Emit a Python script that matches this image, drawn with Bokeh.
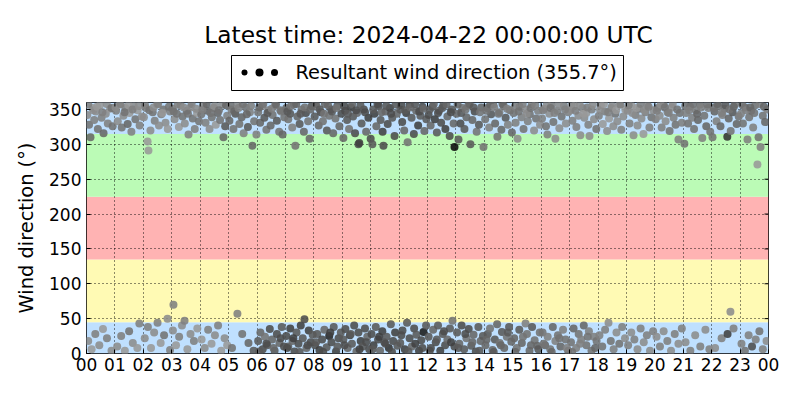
from bokeh.plotting import figure
from bokeh.layouts import column
from bokeh.models import Range1d, FixedTicker, ColumnDataSource
from bokeh.core.properties import value
from bokeh.embed import file_html
from bokeh.resources import INLINE

TITLE = "Latest time: 2024-04-22 00:00:00 UTC"
LEGEND_LABEL = "Resultant wind direction (355.7°)"
Y_LABEL = "Wind direction (°)"
X_TICKS = list(range(0, 25))
X_TICK_LABELS = ["00", "01", "02", "03", "04", "05", "06", "07", "08", "09", "10", "11",
                 "12", "13", "14", "15", "16", "17", "18", "19", "20", "21", "22", "23", "00"]
Y_TICKS = [0, 50, 100, 150, 200, 250, 300, 350]

BAND_BOTTOM = [0, 45, 135, 225, 315]
BAND_TOP = [45, 135, 225, 315, 360]
BAND_COLORS = ["#bfe0ff", "#fffab4", "#ffb3b3", "#bbfbb6", "#bfe0ff"]

# northerly cluster (around 315-360 deg): hour of day, direction, grey level
top_hours = [
    0.03, 0.09, 0.14, 0.21, 0.27, 0.33, 0.40, 0.47, 0.53, 0.60, 0.68, 0.75, 0.83, 0.92,
    1.04, 1.10, 1.17, 1.24, 1.30, 1.37, 1.45, 1.51, 1.58, 1.66, 1.72, 1.80, 1.87, 1.95,
    2.02, 2.09, 2.15, 2.18, 2.25, 2.33, 2.40, 2.48, 2.55, 2.63, 2.70, 2.78, 2.86, 2.94,
    3.03, 3.10, 3.18, 3.25, 3.31, 3.38, 3.46, 3.53, 3.59, 3.66, 3.74, 3.81, 3.89, 3.96,
    4.04, 4.11, 4.19, 4.26, 4.33, 4.41, 4.48, 4.55, 4.62, 4.70, 4.77, 4.82, 4.88, 4.95,
    5.03, 5.10, 5.17, 5.24, 5.31, 5.38, 5.46, 5.53, 5.61, 5.68, 5.75, 5.84, 5.90, 5.98,
    6.04, 6.11, 6.18, 6.26, 6.33, 6.40, 6.48, 6.55, 6.63, 6.70, 6.78, 6.85, 6.90, 6.96,
    7.03, 7.10, 7.17, 7.24, 7.30, 7.35, 7.42, 7.50, 7.57, 7.65, 7.72, 7.80, 7.85, 7.93,
    8.03, 8.10, 8.17, 8.25, 8.32, 8.39, 8.46, 8.54, 8.61, 8.68, 8.76, 8.83, 8.90, 8.97,
    9.04, 9.10, 9.17, 9.24, 9.31, 9.38, 9.45, 9.52, 9.57, 9.60, 9.68, 9.76, 9.84, 9.92,
    10.00, 10.06, 10.13, 10.20, 10.28, 10.35, 10.42, 10.45, 10.52, 10.60, 10.68, 10.76, 10.84, 10.92,
    11.04, 11.11, 11.18, 11.25, 11.30, 11.37, 11.44, 11.52, 11.60, 11.67, 11.75, 11.82, 11.89, 11.96,
    12.04, 12.11, 12.18, 12.26, 12.33, 12.41, 12.48, 12.56, 12.63, 12.70, 12.78, 12.85, 12.92, 12.95,
    13.02, 13.09, 13.16, 13.23, 13.30, 13.37, 13.44, 13.51, 13.58, 13.66, 13.73, 13.81, 13.89, 13.97,
    14.03, 14.10, 14.17, 14.24, 14.31, 14.38, 14.46, 14.53, 14.60, 14.68, 14.75, 14.83, 14.90, 14.97,
    15.03, 15.10, 15.17, 15.24, 15.31, 15.38, 15.45, 15.53, 15.60, 15.67, 15.75, 15.82, 15.89, 15.96,
    16.03, 16.10, 16.17, 16.22, 16.29, 16.36, 16.43, 16.50, 16.57, 16.64, 16.72, 16.80, 16.87, 16.95,
    17.03, 17.10, 17.17, 17.24, 17.31, 17.38, 17.45, 17.52, 17.59, 17.66, 17.70, 17.78, 17.86, 17.94,
    18.03, 18.10, 18.17, 18.25, 18.32, 18.39, 18.47, 18.54, 18.61, 18.68, 18.75, 18.82, 18.89, 18.96,
    19.04, 19.11, 19.18, 19.25, 19.32, 19.39, 19.46, 19.53, 19.60, 19.67, 19.74, 19.81, 19.88, 19.95,
    20.03, 20.10, 20.17, 20.24, 20.31, 20.38, 20.45, 20.52, 20.59, 20.66, 20.73, 20.83, 20.88, 20.95,
    21.04, 21.10, 21.17, 21.24, 21.31, 21.38, 21.45, 21.52, 21.59, 21.67, 21.74, 21.81, 21.88, 21.95,
    22.03, 22.10, 22.17, 22.24, 22.31, 22.38, 22.45, 22.55, 22.60, 22.67, 22.74, 22.81, 22.88, 22.95,
    23.03, 23.10, 23.17, 23.26, 23.32, 23.39, 23.46, 23.53, 23.61, 23.65, 23.72, 23.80, 23.88, 23.95,
    # upper part of the cluster
    0.06, 0.24, 0.37, 0.56, 0.71, 0.88,
    1.02, 1.20, 1.34, 1.48, 1.62, 1.84,
    2.06, 2.21, 2.36, 2.52, 2.67, 2.90,
    3.07, 3.21, 3.42, 3.57, 3.70, 3.86,
    4.08, 4.23, 4.37, 4.51, 4.66, 4.91,
    5.07, 5.20, 5.35, 5.50, 5.64, 5.79,
    6.08, 6.22, 6.37, 6.52, 6.67, 6.82,
    7.07, 7.20, 7.38, 7.53, 7.68, 7.88,
    8.07, 8.21, 8.36, 8.50, 8.64, 8.80,
    9.07, 9.20, 9.35, 9.49, 9.64, 9.80,
    10.09, 10.24, 10.38, 10.55, 10.72, 10.88,
    11.08, 11.22, 11.40, 11.56, 11.71, 11.86,
    12.08, 12.22, 12.37, 12.52, 12.67, 12.82,
    13.06, 13.19, 13.34, 13.48, 13.62, 13.85,
    14.07, 14.21, 14.35, 14.50, 14.64, 14.80,
    15.07, 15.21, 15.35, 15.49, 15.63, 15.79,
    16.07, 16.20, 16.33, 16.47, 16.61, 16.84,
    17.07, 17.21, 17.35, 17.49, 17.63, 17.82,
    18.07, 18.21, 18.36, 18.50, 18.64, 18.79,
    19.08, 19.21, 19.36, 19.50, 19.64, 19.78,
    20.07, 20.21, 20.35, 20.49, 20.63, 20.79,
    21.07, 21.21, 21.35, 21.49, 21.63, 21.85,
    22.07, 22.20, 22.35, 22.49, 22.63, 22.78,
    23.07, 23.21, 23.36, 23.50, 23.69, 23.84,
]
top_dir = [
    342, 328, 310, 352, 335, 347, 322, 356, 338, 316, 344, 330, 351, 326,
    348, 333, 357, 324, 341, 352, 329, 345, 318, 355, 336, 349, 327, 340,
    339, 352, 304, 291, 320, 346, 334, 357, 327, 343, 350, 331, 322, 347,
    351, 336, 344, 325, 356, 340, 330, 348, 314, 353, 337, 322, 345, 333,
    343, 355, 331, 348, 322, 339, 352, 328, 345, 335, 357, 310, 326, 341,
    334, 350, 322, 344, 357, 329, 339, 316, 353, 325, 346, 298, 333, 314,
    346, 331, 355, 338, 321, 349, 327, 342, 356, 334, 318, 347, 314, 339,
    352, 336, 344, 324, 357, 298, 340, 329, 350, 318, 345, 333, 308, 355,
    340, 354, 327, 346, 333, 358, 320, 341, 350, 316, 337, 355, 326, 344,
    309, 348, 335, 322, 353, 340, 316, 345, 300, 302, 330, 350, 318, 338,
    308, 300, 344, 326, 355, 335, 318, 298, 347, 329, 352, 338, 312, 344,
    350, 332, 320, 345, 303, 357, 338, 315, 348, 327, 341, 354, 319, 336,
    342, 327, 354, 336, 317, 348, 331, 356, 322, 340, 312, 350, 330, 296,
    344, 307, 330, 352, 322, 339, 356, 300, 335, 347, 318, 328, 353, 296,
    336, 352, 324, 343, 357, 330, 311, 346, 321, 355, 338, 328, 349, 317,
    345, 331, 308, 354, 339, 322, 350, 333, 343, 357, 320, 337, 348, 328,
    337, 351, 326, 314, 344, 356, 332, 308, 348, 323, 340, 355, 330, 346,
    349, 334, 355, 325, 341, 313, 352, 338, 345, 328, 312, 350, 336, 322,
    341, 356, 329, 347, 319, 337, 352, 326, 344, 333, 357, 321, 340, 350,
    348, 330, 355, 313, 342, 327, 351, 337, 315, 346, 356, 324, 339, 349,
    336, 352, 341, 324, 357, 333, 346, 319, 353, 338, 328, 307, 345, 331,
    301, 345, 330, 354, 338, 322, 349, 335, 357, 309, 341, 326, 352, 318,
    310, 347, 333, 355, 326, 342, 351, 311, 337, 319, 346, 357, 329, 340,
    344, 330, 353, 307, 339, 348, 324, 356, 271, 310, 296, 341, 332, 350,
    357, 349, 354, 346, 358, 352,
    353, 358, 346, 356, 350, 355,
    356, 349, 353, 358, 345, 354,
    347, 357, 353, 344, 358, 351,
    350, 358, 345, 355, 349, 356,
    356, 347, 352, 358, 343, 355,
    353, 358, 345, 351, 357, 349,
    347, 355, 358, 344, 353, 350,
    358, 350, 344, 356, 347, 352,
    355, 344, 358, 349, 356, 346,
    350, 358, 346, 355, 344, 357,
    356, 349, 353, 358, 347, 351,
    350, 358, 345, 352, 357, 346,
    357, 345, 350, 358, 353, 346,
    348, 357, 353, 344, 358, 351,
    354, 347, 358, 344, 352, 356,
    349, 357, 352, 345, 358, 350,
    356, 348, 358, 344, 353, 357,
    350, 358, 346, 355, 349, 357,
    356, 345, 352, 358, 349, 354,
    348, 357, 353, 345, 358, 350,
    355, 349, 358, 344, 353, 357,
    352, 358, 345, 356, 350, 354,
    357, 349, 353, 345, 358, 354,
]
top_grey = [
    .55, .45, .40, .60, .50, .55, .45, .60, .50, .40, .55, .50, .60, .45,
    .50, .55, .60, .45, .55, .50, .40, .60, .50, .55, .45, .60, .50, .55,
    .55, .50, .60, .60, .55, .45, .50, .60, .55, .50, .45, .55, .60, .50,
    .50, .55, .45, .60, .50, .45, .55, .40, .50, .55, .45, .50, .60, .45,
    .45, .55, .50, .40, .55, .45, .50, .60, .40, .45, .55, .40, .35, .50,
    .40, .50, .45, .35, .55, .45, .40, .50, .45, .35, .50, .40, .45, .50,
    .45, .40, .55, .35, .45, .50, .40, .45, .55, .35, .45, .50, .40, .45,
    .40, .45, .35, .50, .45, .45, .40, .35, .45, .40, .30, .45, .40, .35,
    .35, .45, .40, .30, .45, .40, .35, .45, .30, .40, .45, .35, .40, .30,
    .40, .30, .35, .45, .25, .35, .30, .40, .30, .25, .35, .30, .40, .25,
    .30, .35, .25, .40, .30, .35, .25, .30, .40, .30, .25, .35, .30, .40,
    .35, .30, .40, .25, .45, .30, .35, .30, .40, .25, .35, .30, .40, .35,
    .30, .40, .35, .25, .35, .40, .30, .35, .25, .40, .30, .35, .40, .05,
    .40, .35, .30, .45, .35, .40, .45, .35, .40, .30, .45, .35, .40, .45,
    .45, .40, .50, .35, .45, .40, .45, .50, .40, .45, .35, .50, .45, .40,
    .45, .50, .55, .40, .50, .45, .55, .50, .45, .50, .55, .45, .50, .55,
    .50, .55, .45, .50, .55, .50, .45, .55, .50, .55, .45, .50, .55, .50,
    .55, .50, .60, .50, .55, .55, .50, .55, .60, .50, .55, .50, .55, .45,
    .50, .55, .60, .50, .55, .60, .50, .55, .45, .55, .60, .50, .55, .60,
    .55, .50, .60, .55, .50, .55, .45, .55, .60, .50, .55, .50, .45, .55,
    .50, .45, .55, .50, .45, .55, .50, .45, .55, .50, .45, .50, .45, .50,
    .45, .50, .45, .40, .50, .45, .50, .40, .45, .50, .45, .40, .50, .45,
    .45, .40, .50, .45, .40, .50, .45, .20, .40, .45, .35, .50, .40, .45,
    .50, .45, .40, .50, .45, .40, .50, .45, .60, .45, .50, .45, .40, .50,
    .50, .55, .60, .50, .55, .45,
    .55, .50, .45, .60, .50, .55,
    .50, .45, .55, .50, .60, .45,
    .45, .50, .55, .45, .50, .55,
    .50, .40, .45, .55, .45, .40,
    .45, .40, .50, .45, .40, .50,
    .40, .45, .35, .50, .40, .45,
    .35, .45, .40, .35, .45, .40,
    .40, .35, .45, .40, .35, .45,
    .30, .35, .40, .30, .35, .30,
    .35, .30, .40, .35, .30, .35,
    .30, .35, .40, .35, .30, .40,
    .35, .40, .30, .35, .40, .30,
    .40, .35, .45, .40, .35, .45,
    .45, .40, .50, .45, .40, .50,
    .50, .45, .50, .55, .45, .50,
    .50, .55, .45, .50, .55, .50,
    .55, .50, .55, .60, .50, .55,
    .55, .60, .50, .55, .60, .50,
    .50, .55, .60, .50, .55, .50,
    .50, .55, .45, .50, .55, .45,
    .45, .50, .45, .40, .50, .45,
    .45, .40, .50, .35, .45, .40,
    .45, .50, .40, .45, .50, .40,
]

# north-easterly cluster (around 0-45 deg)
low_hours = [
    0.06, 0.18, 0.31, 0.45, 0.58, 0.72, 0.88,
    1.08, 1.22, 1.35, 1.50, 1.63, 1.79, 1.86,
    2.05, 2.16, 2.27, 2.38, 2.50, 2.61, 2.73, 2.85, 2.94,
    3.04, 3.06, 3.15, 3.26, 3.36, 3.45, 3.55, 3.66, 3.78, 3.90,
    4.05, 4.16, 4.28, 4.40, 4.52, 4.63, 4.74, 4.86, 4.95,
    5.12, 5.31, 5.48, 5.70, 5.88,
    6.04, 6.12, 6.20, 6.28, 6.36, 6.45, 6.53, 6.62, 6.70, 6.79, 6.87, 6.95,
    7.03, 7.10, 7.17, 7.25, 7.32, 7.39, 7.46, 7.54, 7.61, 7.67, 7.74, 7.82, 7.89, 7.96,
    8.04, 8.12, 8.20, 8.29, 8.37, 8.45, 8.54, 8.62, 8.70, 8.78, 8.87, 8.95,
    9.04, 9.11, 9.19, 9.27, 9.34, 9.42, 9.50, 9.57, 9.65, 9.72, 9.80, 9.88, 9.95,
    10.03, 10.10, 10.18, 10.26, 10.33, 10.41, 10.48, 10.56, 10.64, 10.71, 10.79, 10.86, 10.94,
    11.04, 11.12, 11.20, 11.28, 11.37, 11.45, 11.53, 11.61, 11.70, 11.78, 11.86, 11.95,
    12.04, 12.12, 12.20, 12.29, 12.37, 12.45, 12.54, 12.62, 12.70, 12.79, 12.88, 12.95,
    13.04, 13.12, 13.20, 13.29, 13.37, 13.45, 13.54, 13.62, 13.70, 13.79, 13.87, 13.95,
    14.04, 14.12, 14.20, 14.29, 14.37, 14.45, 14.54, 14.62, 14.70, 14.79, 14.87, 14.95,
    15.05, 15.14, 15.23, 15.32, 15.45, 15.50, 15.59, 15.68, 15.77, 15.86, 15.95,
    16.05, 16.14, 16.23, 16.32, 16.41, 16.50, 16.59, 16.68, 16.77, 16.86, 16.95,
    17.05, 17.14, 17.23, 17.32, 17.41, 17.50, 17.59, 17.68, 17.77, 17.86, 17.95,
    18.05, 18.15, 18.25, 18.37, 18.45, 18.55, 18.65, 18.75, 18.85, 18.95,
    19.06, 19.17, 19.28, 19.39, 19.50, 19.61, 19.72, 19.83, 19.94,
    20.06, 20.18, 20.31, 20.44, 20.57, 20.70, 20.83, 20.95,
    21.08, 21.25, 21.42, 21.60, 21.78, 21.92,
    22.12, 22.35, 22.56, 22.66, 22.77,
    23.05, 23.17, 23.30, 23.42, 23.55, 23.68, 23.80, 23.93,
    # lower part of the cluster during the day
    6.08, 6.33, 6.58, 6.83,
    7.06, 7.28, 7.50, 7.78,
    8.08, 8.33, 8.58, 8.83,
    9.08, 9.30, 9.61, 9.84,
    10.07, 10.30, 10.52, 10.75,
    11.08, 11.33, 11.57, 11.82,
    12.08, 12.33, 12.58, 12.83,
    13.08, 13.33, 13.58, 13.83,
    14.08, 14.33, 14.58, 14.83,
    15.09, 15.36, 15.64, 15.90,
    16.09, 16.37, 16.64, 16.90,
    17.09, 17.37, 17.64, 17.90,
]
low_dir = [
    18, 6, 28, 12, 35, 22, 4,
    10, 25, 4, 32, 15, 8, 43,
    22, 38, 8, 30, 44, 15, 26, 50, 5,
    33, 70, 12, 24, 40, 47, 6, 28, 18, 36,
    20, 8, 34, 14, 26, 40, 4, 22, 12,
    8, 57, 28, 15, 4,
    18, 30, 6, 24, 12, 35, 20, 4, 28, 15, 38, 10,
    25, 10, 36, 18, 3, 30, 14, 40, 22, 49, 8, 33, 16, 27,
    12, 28, 5, 20, 34, 9, 25, 16, 38, 3, 22, 30,
    20, 35, 8, 26, 14, 40, 3, 30, 18, 10, 36, 24, 6,
    28, 12, 38, 20, 4, 32, 16, 24, 8, 42, 18, 30, 11,
    15, 33, 6, 44, 22, 10, 36, 27, 4, 19, 31, 40,
    24, 8, 34, 16, 40, 4, 28, 12, 20, 36, 47, 10,
    30, 14, 40, 6, 22, 35, 11, 27, 3, 38, 18, 25,
    12, 28, 36, 5, 20, 42, 15, 31, 8, 24, 38, 17,
    22, 8, 34, 15, 43, 28, 4, 38, 19, 11, 30,
    30, 12, 24, 6, 38, 18, 26, 10, 34, 20, 4,
    16, 36, 8, 28, 20, 40, 12, 32, 4, 24, 18,
    26, 10, 34, 44, 18, 6, 30, 14, 38, 22,
    12, 30, 20, 6, 36, 16, 26, 4, 32,
    24, 10, 32, 18, 4, 28, 14, 36,
    16, 4, 26, 10, 34, 6,
    8, 22, 28, 60, 36,
    14, 4, 26, 10, 20, 32, 6, 18,
    3, 14, 8, 22,
    8, 22, 2, 12,
    16, 2, 30, 10,
    12, 28, 6, 16,
    6, 24, 14, 2,
    26, 3, 14, 8,
    4, 20, 32, 16,
    8, 28, 16, 4,
    20, 2, 12, 30,
    2, 24, 12, 6,
    14, 2, 22, 8,
    2, 14, 24, 8,
]
low_grey = [
    .55, .60, .50, .55, .60, .50, .55,
    .55, .50, .60, .45, .55, .60, .50,
    .55, .50, .60, .55, .50, .60, .45, .55, .50,
    .55, .50, .60, .50, .55, .50, .60, .55, .50, .60,
    .60, .55, .50, .60, .55, .50, .60, .55, .60,
    .45, .50, .45, .40, .35,
    .35, .40, .30, .45, .35, .30, .40, .35, .30, .40, .35, .30,
    .30, .35, .25, .40, .30, .35, .30, .25, .35, .30, .40, .25, .30, .35,
    .30, .35, .25, .30, .40, .35, .15, .30, .35, .25, .30, .35,
    .35, .30, .40, .25, .35, .30, .40, .30, .25, .35, .30, .40, .30,
    .30, .25, .35, .30, .40, .25, .30, .35, .20, .35, .30, .25, .35,
    .35, .30, .25, .35, .30, .40, .30, .35, .25, .30, .10, .35,
    .35, .30, .40, .30, .35, .25, .35, .30, .40, .35, .45, .30,
    .35, .40, .30, .35, .45, .30, .35, .40, .30, .35, .40, .35,
    .40, .35, .45, .40, .35, .40, .45, .35, .40, .45, .35, .40,
    .40, .45, .35, .40, .50, .45, .40, .35, .45, .40, .45,
    .45, .40, .50, .45, .40, .50, .45, .40, .50, .45, .40,
    .45, .40, .50, .45, .50, .40, .45, .50, .45, .50, .45,
    .50, .45, .50, .55, .45, .50, .55, .45, .50, .55,
    .50, .55, .50, .55, .50, .55, .50, .55, .50,
    .55, .50, .55, .50, .55, .50, .55, .50,
    .55, .50, .55, .50, .55, .50,
    .55, .50, .25, .55, .50,
    .50, .45, .50, .30, .50, .45, .50, .55,
    .35, .30, .40, .30,
    .30, .25, .35, .30,
    .35, .30, .25, .35,
    .30, .35, .25, .30,
    .35, .25, .30, .30,
    .30, .35, .25, .30,
    .30, .35, .30, .25,
    .35, .30, .40, .35,
    .40, .35, .40, .35,
    .40, .45, .40, .35,
    .45, .40, .45, .50,
    .45, .50, .45, .40,
]


def grey_hex(g):
    v = int(round(g * 255))
    return "#%02x%02x%02x" % (v, v, v)


hours = top_hours + low_hours
direction = top_dir + low_dir
grey = top_grey + low_grey
n = min(len(hours), len(direction), len(grey))
src = ColumnDataSource(dict(hour=hours[:n], direction=direction[:n],
                            color=[grey_hex(g) for g in grey[:n]]))

FONT = "DejaVu Sans"
LEFT, RIGHT = 86, 16
WIDTH = 784
HDR_H = 93

# ---------- header: title + legend (coordinates = page pixels) ----------
hdr = figure(width=WIDTH, height=HDR_H, x_range=Range1d(LEFT, WIDTH - RIGHT),
             y_range=Range1d(HDR_H, 0),
             min_border_left=LEFT, min_border_right=RIGHT, min_border_top=0, min_border_bottom=0,
             toolbar_location=None, output_backend="svg",
             x_axis_location=None, y_axis_location=None)
hdr.grid.visible = False
hdr.outline_line_color = None
hdr.title.visible = False
hdr.text(x=[428], y=[34], text=[TITLE], text_align="center", text_baseline="middle",
         text_font=value(FONT), text_font_size="23.3px", text_color="black")
hdr.quad(left=[231], right=[623], bottom=[90], top=[55], fill_color="white",
         line_color="black", line_width=1)
hdr.scatter(x=[244, 259, 274], y=[72, 72, 72], size=[6, 8, 7], fill_color="black",
            line_color=None)
hdr.text(x=[295], y=[72], text=[LEGEND_LABEL], text_align="left", text_baseline="middle",
         text_font=value(FONT), text_font_size="19.4px", text_color="black")

# ---------- main plot ----------
X0, X1, Y0, Y1 = 0, 24, 0, 360
p = figure(width=WIDTH, height=299, x_range=Range1d(X0, X1), y_range=Range1d(Y0, Y1),
           toolbar_location=None, output_backend="svg",
           min_border_left=LEFT, min_border_right=RIGHT, min_border_top=9, min_border_bottom=39)
p.title.visible = False

p.quad(left=[X0] * 5, right=[X1] * 5, bottom=BAND_BOTTOM, top=BAND_TOP,
       fill_color=BAND_COLORS, line_color=None, level="image")

p.scatter(x="hour", y="direction", source=src, size=8, fill_color="color",
          line_color=None, fill_alpha=0.88)

# inward tick marks on the top and right edges (4 px long)
frame_w = WIDTH - LEFT - RIGHT
frame_h = 299 - 9 - 39
tx = 4 * (X1 - X0) / frame_w
ty = 4 * (Y1 - Y0) / frame_h
p.segment(x0=X_TICKS, x1=X_TICKS, y0=[Y1] * len(X_TICKS), y1=[Y1 - ty] * len(X_TICKS),
          line_color="black", line_width=1)
p.segment(x0=[X1] * len(Y_TICKS), x1=[X1 - tx] * len(Y_TICKS), y0=Y_TICKS, y1=Y_TICKS,
          line_color="black", line_width=1)

p.xaxis.ticker = FixedTicker(ticks=X_TICKS)
p.xaxis.major_label_overrides = {t: lab for t, lab in zip(X_TICKS, X_TICK_LABELS)}
p.yaxis.ticker = FixedTicker(ticks=Y_TICKS)
p.yaxis.axis_label = Y_LABEL

for ax in (p.xaxis[0], p.yaxis[0]):
    ax.major_label_text_font = FONT
    ax.major_label_text_font_size = "17px"
    ax.major_label_text_color = "black"
    ax.axis_label_text_font = FONT
    ax.axis_label_text_font_size = "19.4px"
    ax.axis_label_text_font_style = "normal"
    ax.axis_label_text_color = "black"
    ax.axis_line_color = None
    ax.major_tick_in = 4
    ax.major_tick_out = 0
    ax.major_tick_line_color = "black"
    ax.minor_tick_line_color = None
p.xaxis.major_label_standoff = 4
p.yaxis.major_label_standoff = 5
p.yaxis.axis_label_standoff = 8

for g in (p.xgrid[0], p.ygrid[0]):
    g.grid_line_color = "black"
    g.grid_line_dash = "1 3"
    g.grid_line_width = 1
    g.grid_line_alpha = 0.9

p.outline_line_color = "black"
p.outline_line_width = 1
p.outline_line_alpha = 1

layout = column(hdr, p, spacing=0)
open("out.html", "w").write(file_html(layout, INLINE))
